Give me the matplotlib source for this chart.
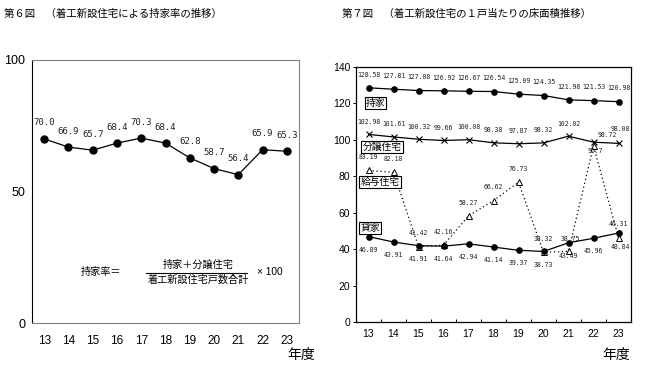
import matplotlib
matplotlib.use("Agg")
import matplotlib.pyplot as plt
from matplotlib.lines import Line2D

plt.rcParams['font.family'] = ['Noto Sans CJK JP', 'DejaVu Sans']

# data
years = ['13', '14', '15', '16', '17', '18', '19', '20', '21', '22', '23']
mochiie_rate = [70.0, 66.9, 65.7, 68.4, 70.3, 68.4, 62.8, 58.7, 56.4, 65.9, 65.3]

mochiie = [128.58, 127.81, 127.08, 126.92, 126.67, 126.54, 125.09, 124.35, 121.98, 121.53, 120.98]
bunjo = [102.98, 101.61, 100.32, 99.66, 100.08, 98.38, 97.87, 98.32, 102.02, 98.72, 98.08]
kyuyo = [83.19, 82.18, 41.42, 42.16, 58.27, 66.62, 76.73, 38.32, 38.75, 96.7, 46.31]
kashiya = [46.89, 43.91, 41.91, 41.64, 42.94, 41.14, 39.37, 38.73, 43.49, 45.96, 48.84]

fig = plt.figure(figsize=(6.49, 3.74), dpi=100)

num_font = ['DejaVu Sans Mono']
tick_font = ['Liberation Sans', 'DejaVu Sans']
x = list(range(len(years)))

# ---- left chart: 第6図
ax1 = fig.add_axes([32/649, 1-323/374, 267/649, 263/374])
ax1.plot(x, mochiie_rate, color='black', lw=0.9, marker='o', ms=5)
for i, v in enumerate(mochiie_rate):
    ax1.annotate(f'{v:.1f}', (i, v), xytext=(0, 11.5), textcoords='offset points',
                 ha='center', va='center', fontsize=6.5, family=num_font, color='#222222')
ax1.set_xlim(-0.5, len(years)-0.5)
ax1.set_ylim(0, 100)
ax1.set_yticks([0, 50, 100])
ax1.set_xticks(x)
ax1.set_xticklabels(years, family=tick_font, fontsize=8.5)
for t in ax1.get_yticklabels():
    t.set_family(tick_font)
    t.set_fontsize(9)
ax1.tick_params(axis='x', length=0, pad=9)
ax1.tick_params(axis='y', length=0, pad=5)
for s in ['top', 'right', 'bottom']:
    ax1.spines[s].set_color('#808080')
ax1.spines['left'].set_color('black')

# formula
ax1.text(0.259, 0.194, '持家率＝', transform=ax1.transAxes, ha='center', va='center', fontsize=7.3)
ax1.text(0.622, 0.223, '持家＋分譲住宅', transform=ax1.transAxes, ha='center', va='center', fontsize=7.3)
ax1.add_line(Line2D([0.427, 0.805], [0.189, 0.189], transform=ax1.transAxes, color='black', lw=0.8))
ax1.text(0.624, 0.165, '着工新設住宅戸数合計', transform=ax1.transAxes, ha='center', va='center', fontsize=7.3)
ax1.text(0.843, 0.194, '× 100', transform=ax1.transAxes, ha='left', va='center', fontsize=7.3,
         family=tick_font)

fig.text(4/649, 1-14/374, '第６図　（着工新設住宅による持家率の推移）', ha='left', va='center', fontsize=7.5)
fig.text(301/649, 1-355/374, '年度', ha='center', va='center', fontsize=10)

# ---- right chart: 第7図
ax2 = fig.add_axes([356/649, 1-322/374, 275/649, 255/374])
ax2.plot(x, mochiie, color='black', lw=0.9, marker='o', ms=3.8)
ax2.plot(x, bunjo, color='black', lw=0.9, marker='x', ms=4, mew=0.8)
ax2.plot(x, kyuyo, color='black', lw=0.9, ls=(0, (1, 2.2)), marker='^', ms=4.5,
         mfc='white', mec='black', mew=0.7)
ax2.plot(x, kashiya, color='black', lw=0.9, marker='o', ms=3.8)

# label offsets in points (default per series, with exceptions)
series = [(mochiie, (0, 9.5), {}),
          (bunjo, (0, 9), {9: (10, 5), 10: (1.5, 10)}),
          (kyuyo, (0, 9.5), {9: (1, -4), 8: (1.5, 9)}),
          (kashiya, (0, -9.5), {10: (1, -10)})]
for vals, off, special in series:
    for i, v in enumerate(vals):
        o = special.get(i, off)
        txt = f'{v:.2f}' if v != 96.7 else '96.7'
        ax2.annotate(txt, (i, v), xytext=o, textcoords='offset points',
                     ha='center', va='center', fontsize=4.7, family=num_font, color='#222222')

ax2.set_xlim(-0.5, len(years)-0.5)
ax2.set_ylim(0, 140)
ax2.set_yticks(range(0, 141, 20))
ax2.set_xticks(x)
ax2.set_xticklabels(years, family=tick_font, fontsize=7.5)
for t in ax2.get_yticklabels():
    t.set_family(tick_font)
    t.set_fontsize(7.5)
ax2.set_xticks([i + 0.5 for i in range(len(years)-1)], minor=True)
ax2.tick_params(axis='x', which='major', length=0, pad=5)
ax2.tick_params(axis='x', which='minor', direction='in', length=2.5, width=0.7)
ax2.tick_params(axis='y', length=2.5, width=0.7, pad=1.5)
for s in ax2.spines.values():
    s.set_color('black')
    s.set_linewidth(0.9)

box = dict(boxstyle='square,pad=0.12', fc='white', ec='black', lw=0.8)
ax2.text(0.071, 0.859, '持家', transform=ax2.transAxes, ha='center', va='center', fontsize=7, bbox=box)
ax2.text(0.095, 0.686, '分譲住宅', transform=ax2.transAxes, ha='center', va='center', fontsize=7, bbox=box)
ax2.text(0.087, 0.549, '給与住宅', transform=ax2.transAxes, ha='center', va='center', fontsize=7, bbox=box)
ax2.text(0.051, 0.369, '貸家', transform=ax2.transAxes, ha='center', va='center', fontsize=7, bbox=box)

fig.text(342/649, 1-14/374, '第７図　（着工新設住宅の１戸当たりの床面積推移）', ha='left', va='center', fontsize=7.5)
fig.text(616/649, 1-355/374, '年度', ha='center', va='center', fontsize=10)

fig.savefig('out.png', dpi=100)
